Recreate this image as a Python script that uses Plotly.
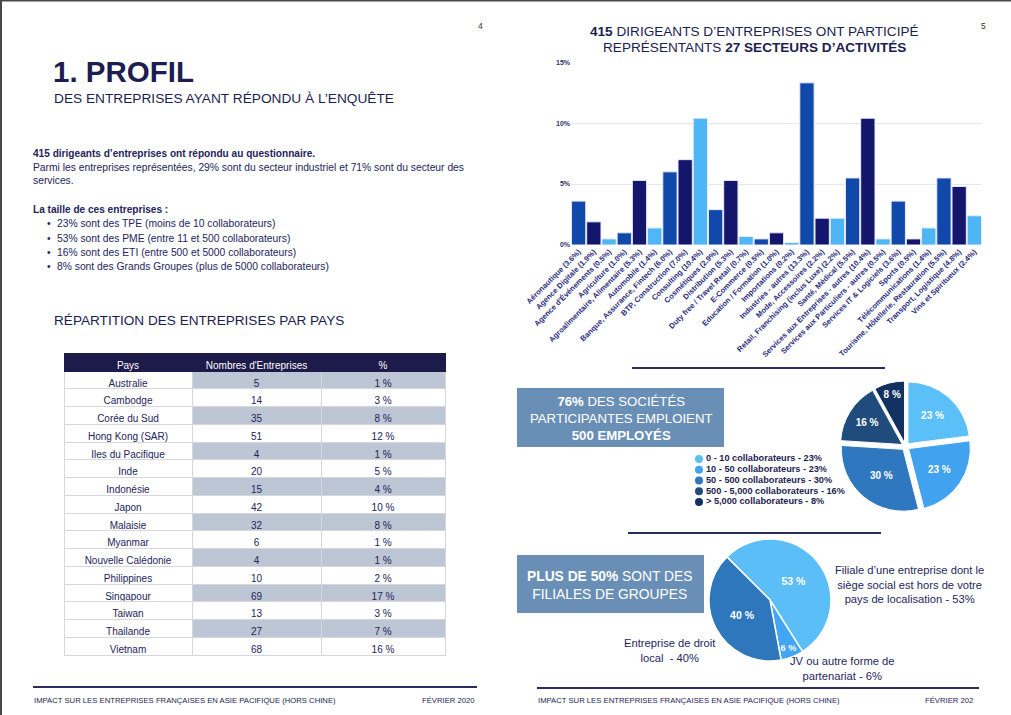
import plotly.graph_objects as go

W, H = 1011, 715
def px(x): return x / W
def py(y): return 1 - y / H

NAVY = "#1d1d4f"
TXT = "#24245a"
FONT = "Liberation Sans, Arial, sans-serif"

# ---------------- DATA ----------------
sectors = ["Aéronautique", "Agence Digitale", "Agence d'Événements", "Agriculture",
           "Agroalimentaire, Alimentaire", "Automobile", "Banque, Assurance, Fintech",
           "BTP, Construction", "Consulting", "Cosmétiques", "Distribution",
           "Duty free / Travel Retail", "E-Commerce", "Education / Formation",
           "Importations", "Industries - autres", "Mode, Accessoires",
           "Retail, Franchising (inclus Luxe)", "Santé, Médical",
           "Services aux Entreprises - autres", "Services aux Particuliers - autres",
           "Services IT & Logiciels", "Sports", "Télécommunications",
           "Tourisme, Hôtellerie, Restauration", "Transport, Logistique",
           "Vins et Spiritueux"]
sector_pct = [3.6, 1.9, 0.5, 1.0, 5.3, 1.4, 6.0, 7.0, 10.4, 2.9, 5.3, 0.7, 0.5, 1.0,
              0.2, 13.3, 2.2, 2.2, 5.5, 10.4, 0.5, 3.6, 0.5, 1.4, 5.5, 4.8, 2.4]
y_ticks = [0, 5, 10, 15]

pays = ["Australie", "Cambodge", "Corée du Sud", "Hong Kong (SAR)", "Iles du Pacifique",
        "Inde", "Indonésie", "Japon", "Malaisie", "Myanmar", "Nouvelle Calédonie",
        "Philippines", "Singapour", "Taiwan", "Thailande", "Vietnam"]
nb_entreprises = [5, 14, 35, 51, 4, 20, 15, 42, 32, 6, 4, 10, 69, 13, 27, 68]
pct_pays = [1, 3, 8, 12, 1, 5, 4, 10, 8, 1, 1, 2, 17, 3, 7, 16]
table_header = ["Pays", "Nombres d'Entreprises", "%"]

taille_labels = ["0 - 10 collaborateurs", "10 - 50 collaborateurs", "50 - 500 collaborateurs",
                 "500 - 5,000 collaborateurs", "> 5,000 collaborateurs"]
taille_values = [23, 23, 30, 16, 8]

statut_labels = ["Filiale d'une entreprise dont le siège social est hors de votre pays de localisation",
                 "JV ou autre forme de partenariat", "Entreprise de droit local"]
statut_values = [53, 6, 40]

# ---------------- FIGURE ----------------
fig = go.Figure()

bar_palette = ["#1149aa", "#13166a", "#4fb6f6"]
bar_colors = [bar_palette[i % 3] for i in range(len(sectors))]
tick_labels = [f"{s} ({v:.1f}%)" for s, v in zip(sectors, sector_pct)]

fig.add_trace(go.Bar(
    x=tick_labels, y=sector_pct, xaxis="x", yaxis="y",
    marker=dict(color=bar_colors, line=dict(color="rgba(230,236,255,1)", width=1)),
    showlegend=False, hoverinfo="skip"))

# Pie 1 : taille
pie1_colors = ["#5bc0f7", "#41a2f0", "#2f78bf", "#1f4c7d", "#123160"]
fig.add_trace(go.Pie(
    labels=taille_labels, values=taille_values, sort=False, direction="clockwise",
    rotation=0, pull=0.06, marker=dict(colors=pie1_colors, line=dict(color="white", width=1)),
    texttemplate="%{value} %", textposition="inside", insidetextorientation="horizontal",
    textfont=dict(color="white", size=10, family=FONT, weight="bold"),
    domain=dict(x=[px(840), px(971)], y=[py(512), py(381)]),
    showlegend=False, hoverinfo="skip"))

# legend for pie 1 drawn as scatter on hidden axes
legend_idx = list(range(len(taille_labels)))
fig.add_trace(go.Scatter(
    x=[0] * len(taille_labels), y=legend_idx, xaxis="x2", yaxis="y2",
    mode="markers", cliponaxis=False,
    marker=dict(color=pie1_colors, size=8),
    showlegend=False, hoverinfo="skip"))
fig.add_trace(go.Scatter(
    x=[0.7] * len(taille_labels), y=legend_idx, xaxis="x2", yaxis="y2",
    mode="text", cliponaxis=False,
    text=[f"{l} - {v}%" for l, v in zip(taille_labels, taille_values)],
    textposition="middle right",
    textfont=dict(color=NAVY, size=9.2, family=FONT, weight="bold"),
    showlegend=False, hoverinfo="skip"))

# Pie 2 : statut
pie2_colors = ["#5bbef7", "#42a5f5", "#2f77bd"]
fig.add_trace(go.Pie(
    labels=statut_labels, values=statut_values, sort=False, direction="clockwise",
    rotation=-45, marker=dict(colors=pie2_colors, line=dict(color="white", width=1.5)),
    texttemplate="%{value} %", textposition="inside", insidetextorientation="horizontal",
    textfont=dict(color="white", size=10.5, family=FONT, weight="bold"),
    domain=dict(x=[px(709), px(831)], y=[py(661), py(539)]),
    showlegend=False, hoverinfo="skip"))

# Table
shade = "#bcc6d4"
col_shade = [shade if i % 2 == 0 else "white" for i in range(len(pays))]
fig.add_trace(go.Table(
    domain=dict(x=[px(64), px(445)], y=[py(664), py(353)]),
    columnwidth=[128, 129, 124],
    header=dict(values=table_header, fill_color="#1c1b4a", height=18, align="center",
                line=dict(color="#1c1b4a", width=1),
                font=dict(color="white", size=10, family=FONT)),
    cells=dict(values=[pays, nb_entreprises, [f"{v} %" for v in pct_pays]],
               fill_color=[["white"] * len(pays), col_shade, col_shade],
               height=17.75, align="center",
               line=dict(color="#d6d7dc", width=1),
               font=dict(color=TXT, size=10, family=FONT))))

# ---------------- SHAPES ----------------
shapes = []
def hline(x0, x1, y, w=2, c="#2b2b5e"):
    shapes.append(dict(type="line", xref="paper", yref="paper", x0=px(x0), x1=px(x1),
                       y0=py(y), y1=py(y), line=dict(color=c, width=w)))
def rect(x0, y0, x1, y1, c):
    shapes.append(dict(type="rect", xref="paper", yref="paper", x0=px(x0), x1=px(x1),
                       y0=py(y1), y1=py(y0), fillcolor=c, line=dict(width=0), layer="below"))

hline(0, 1011, 0.7, 1.5, "#4a4a4a")
shapes.append(dict(type="line", xref="paper", yref="paper", x0=px(1), x1=px(1), y0=0, y1=1,
                   line=dict(color="#4a4a4a", width=2)))
hline(632, 885, 368, 2.2)
hline(628, 881, 533, 2.2)
hline(33, 477, 687, 2.2)
hline(537, 979, 688, 2.2)
rect(517, 388, 724, 447, "#6a8fb7")
rect(517, 555, 704, 613, "#6a8fb7")

# ---------------- ANNOTATIONS ----------------
ann = []
def text(x, y, t, size, color=NAVY, xa="left", bold=False, align="left"):
    ann.append(dict(x=px(x), y=py(y), xref="paper", yref="paper", text=t, showarrow=False,
                    xanchor=xa, yanchor="middle", align=align,
                    font=dict(size=size, color=color, family=FONT,
                              weight="bold" if bold else "normal")))

text(480, 26, "4", 8.5, "#333333", "center")
text(983, 26, "5", 8.5, "#333333", "center")
text(51, 71, "1. PROFIL", 29.5, NAVY, bold=True)
text(52, 99, "DES ENTREPRISES AYANT RÉPONDU À L’ENQUÊTE", 13.7, NAVY)
text(31, 153, "415 dirigeants d’entreprises ont répondu au questionnaire.", 10.1, TXT, bold=True)
text(31, 167.5, "Parmi les entreprises représentées, 29% sont du secteur industriel et 71% sont du secteur des", 10.3, TXT)
text(31, 180, "services.", 10.3, TXT)
text(31, 209, "La taille de ces entreprises :", 10.1, TXT, bold=True)
bullets = ["23% sont des TPE (moins de 10 collaborateurs)",
           "53% sont des PME (entre 11 et 500 collaborateurs)",
           "16% sont des ETI (entre 500 et 5000 collaborateurs)",
           "8% sont des Grands Groupes (plus de 5000 collaborateurs)"]
for i, b in enumerate(bullets):
    yy = 223.5 + i * 14.5
    text(45, yy, "•", 10.3, TXT)
    text(55, yy, b, 10.3, TXT)
text(52, 321, "RÉPARTITION DES ENTREPRISES PAR PAYS", 13.6, NAVY)

text(754, 32, "<b>415</b> DIRIGEANTS D’ENTREPRISES ONT PARTICIPÉ", 13.6, NAVY, "center")
text(754, 47.5, "REPRÉSENTANTS <b>27 SECTEURS D’ACTIVITÉS</b>", 13.6, NAVY, "center")

text(620.5, 418, "<b>76%</b> DES SOCIÉTÉS<br>PARTICIPANTES EMPLOIENT<br><b>500 EMPLOYÉS</b>",
     13.2, "white", "center", align="center")
text(609, 585, "<b>PLUS DE 50%</b> SONT DES<br>FILIALES DE GROUPES", 13.8, "white", "center",
     align="center")

text(909, 584, "Filiale d’une entreprise dont le<br>siège social est hors de votre<br>pays de localisation - 53%",
     11.2, "#26265a", "center", align="center")
text(670, 650, "Entreprise de droit<br>local  - 40%", 11.2, "#26265a", "center", align="center")
text(842, 668.5, "JV ou autre forme de<br>partenariat - 6%", 11.2, "#26265a", "center", align="center")

text(32, 700, "IMPACT SUR LES ENTREPRISES FRANÇAISES EN ASIE PACIFIQUE (HORS CHINE)", 7.7, NAVY)
text(477, 700, "FÉVRIER 2020", 7.7, NAVY, "right")
text(536, 700, "IMPACT SUR LES ENTREPRISES FRANÇAISES EN ASIE PACIFIQUE (HORS CHINE)", 7.7, NAVY)
text(975, 700, "FÉVRIER 202", 7.7, NAVY, "right")

fig.update_layout(
    width=W, height=H, margin=dict(l=0, r=0, t=0, b=0, pad=0, autoexpand=False),
    paper_bgcolor="white", plot_bgcolor="white",
    font=dict(family=FONT, color=NAVY),
    bargap=0.06,
    shapes=shapes, annotations=ann,
    xaxis=dict(domain=[px(571), px(982)], tickangle=-45, showgrid=False, showline=False,
               ticks="", fixedrange=True, automargin=False,
               tickfont=dict(size=7.6, color="#2c2c7c", family=FONT, weight="bold")),
    yaxis=dict(domain=[py(245), py(61.5)], range=[0, 15.05], tickvals=y_ticks,
               ticktext=[f"{v}%" for v in y_ticks], showgrid=True, gridcolor="#e6e6ef",
               gridwidth=1, zeroline=False, showline=False, ticks="", fixedrange=True,
               automargin=False,
               tickfont=dict(size=7, color="#2e2e6e", family=FONT, weight="bold")),
    xaxis2=dict(domain=[px(689), px(799)], range=[-1, 10], visible=False, fixedrange=True),
    yaxis2=dict(domain=[py(507.4), py(453.6)], range=[4.5, -0.5], visible=False, fixedrange=True),
)

fig.write_html("out.html", config={"displayModeBar": False},
               post_script="document.body.style.margin='0';document.body.style.overflow='hidden';")
